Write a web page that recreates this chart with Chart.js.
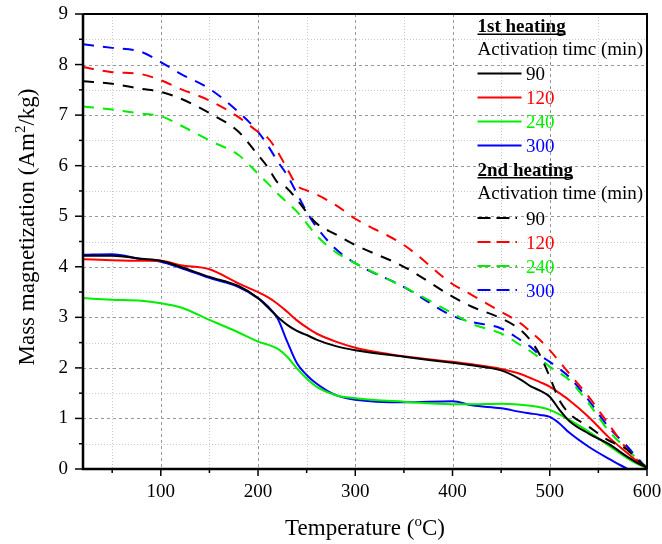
<!DOCTYPE html>
<html>
<head>
<meta charset="utf-8">
<title>Mass magnetization vs temperature</title>
<script src="https://cdn.jsdelivr.net/npm/chart.js@4.4.1/dist/chart.umd.min.js"></script>
<style>
  body { margin: 0; background: #fff; }
  #wrap { width: 662px; height: 544px; }
</style>
</head>
<body>
<div id="wrap"><canvas id="myChart" width="662" height="544"></canvas></div>
<script>
// temperatures (C) where the curves were read
var temps = [20, 50, 80, 100, 120, 150, 180, 200, 210, 220, 230, 240, 250, 260, 280, 300,
             350, 400, 420, 450, 470, 480, 490, 500, 510, 520, 540, 560, 580, 590, 600];

// 1st heating (solid)
var first90  = [4.22, 4.22, 4.16, 4.12, 4.00, 3.80, 3.62, 3.38, 3.20, 3.01, 2.85, 2.73, 2.65, 2.56, 2.43, 2.35,
                2.22, 2.10, 2.05, 1.95, 1.77, 1.64, 1.55, 1.43, 1.17, 0.95, 0.70, 0.50, 0.24, 0.12, 0.03];
var first120 = [4.15, 4.13, 4.12, 4.12, 4.03, 3.95, 3.67, 3.50, 3.40, 3.27, 3.11, 2.94, 2.80, 2.68, 2.52, 2.40,
                2.23, 2.12, 2.07, 1.98, 1.88, 1.80, 1.72, 1.63, 1.50, 1.36, 1.03, 0.64, 0.31, 0.15, 0.04];
var first240 = [3.38, 3.35, 3.33, 3.28, 3.20, 2.95, 2.70, 2.52, 2.46, 2.38, 2.22, 1.99, 1.79, 1.63, 1.46, 1.40,
                1.33, 1.28, 1.28, 1.29, 1.27, 1.25, 1.22, 1.17, 1.08, 0.97, 0.74, 0.47, 0.21, 0.10, 0.02];
var first300 = [4.24, 4.25, 4.15, 4.10, 3.98, 3.78, 3.60, 3.38, 3.22, 2.98, 2.52, 2.09, 1.86, 1.69, 1.46, 1.37,
                1.32, 1.34, 1.26, 1.20, 1.13, 1.10, 1.07, 1.03, 0.90, 0.72, 0.44, 0.21, 0.00, null, null];

// 2nd heating (dashed)
var second90  = [7.67, 7.62, 7.52, 7.46, 7.33, 7.04, 6.67, 6.21, 5.97, 5.67, 5.55, 5.33, 5.08, 4.86, 4.64, 4.43,
                 4.00, 3.41, 3.21, 2.98, 2.75, 2.55, 2.25, 1.82, 1.36, 1.10, 0.84, 0.57, 0.38, 0.18, 0.02];
var second120 = [7.95, 7.85, 7.81, 7.69, 7.52, 7.29, 6.96, 6.67, 6.55, 6.28, 5.94, 5.61, 5.51, 5.43, 5.22, 4.95,
                 4.43, 3.66, 3.44, 3.11, 2.88, 2.72, 2.55, 2.35, 2.12, 1.89, 1.43, 0.90, 0.38, 0.18, 0.02];
var second240 = [7.17, 7.11, 7.03, 6.98, 6.80, 6.50, 6.21, 5.84, 5.65, 5.45, 5.27, 5.09, 4.86, 4.62, 4.29, 4.07,
                 3.60, 3.08, 2.87, 2.68, 2.45, 2.33, 2.19, 2.02, 1.90, 1.76, 1.30, 0.77, 0.38, 0.20, 0.02];
var second300 = [8.40, 8.33, 8.25, 8.05, 7.82, 7.52, 7.06, 6.67, 6.40, 6.09, 5.81, 5.45, 5.09, 4.79, 4.35, 4.07,
                 3.60, 3.03, 2.91, 2.78, 2.55, 2.42, 2.25, 2.12, 1.98, 1.82, 1.36, 0.84, 0.44, 0.22, 0.02];

// axis ticks
var xMajor = [100, 200, 300, 400, 500, 600];
var xMinor = [50, 150, 250, 350, 450, 550];
var yMajor = [0, 1, 2, 3, 4, 5, 6, 7, 8, 9];
var yMinor = [0.5, 1.5, 2.5, 3.5, 4.5, 5.5, 6.5, 7.5, 8.5];

var minutes = ['90', '120', '240', '300'];
var colors = ['#000000', '#ff0000', '#00ee00', '#0000ff'];

var serif = '"Liberation Serif", "Times New Roman", serif';

document.addEventListener('DOMContentLoaded', function() {

    function pts(values) {
        return temps.map(function(t, i) { return { x: t, y: values[i] }; });
    }

    var solid = [first90, first120, first240, first300];
    var dashed = [second90, second120, second240, second300];
    var datasets = [];
    dashed.forEach(function(vals, i) {
        datasets.push({
            label: '2nd ' + minutes[i],
            data: pts(vals),
            borderColor: colors[i],
            borderWidth: 2,
            borderDash: [11, 9],
            pointRadius: 0,
            fill: false,
            cubicInterpolationMode: 'monotone'
        });
    });
    solid.forEach(function(vals, i) {
        datasets.push({
            label: '1st ' + minutes[i],
            data: pts(vals),
            borderColor: colors[i],
            borderWidth: 2,
            pointRadius: 0,
            fill: false,
            cubicInterpolationMode: 'monotone'
        });
    });

    // grid + minor/major tick marks
    var gridPlugin = {
        id: 'gridLines',
        beforeDatasetsDraw: function(chart) {
            var ctx = chart.ctx, a = chart.chartArea;
            var xs = chart.scales.x, ys = chart.scales.y;
            ctx.save();
            ctx.lineWidth = 1;
            // minor dotted
            ctx.strokeStyle = '#c8c8c8';
            ctx.setLineDash([1, 2]);
            xMinor.forEach(function(v) {
                var px = Math.round(xs.getPixelForValue(v)) + 0.5;
                ctx.beginPath(); ctx.moveTo(px, a.top); ctx.lineTo(px, a.bottom); ctx.stroke();
            });
            yMinor.forEach(function(v) {
                var py = Math.round(ys.getPixelForValue(v)) + 0.5;
                ctx.beginPath(); ctx.moveTo(a.left, py); ctx.lineTo(a.right, py); ctx.stroke();
            });
            // major dashed
            ctx.strokeStyle = '#999999';
            ctx.setLineDash([3, 3]);
            xMajor.forEach(function(v) {
                var px = Math.round(xs.getPixelForValue(v)) + 0.5;
                ctx.beginPath(); ctx.moveTo(px, a.top); ctx.lineTo(px, a.bottom); ctx.stroke();
            });
            yMajor.forEach(function(v) {
                var py = Math.round(ys.getPixelForValue(v)) + 0.5;
                ctx.beginPath(); ctx.moveTo(a.left, py); ctx.lineTo(a.right, py); ctx.stroke();
            });
            ctx.restore();
        },
        afterDatasetsDraw: function(chart) {
            var ctx = chart.ctx, a = chart.chartArea;
            var xs = chart.scales.x, ys = chart.scales.y;
            ctx.save();
            ctx.setLineDash([]);
            ctx.strokeStyle = '#000';
            // frame
            ctx.lineWidth = 2;
            ctx.beginPath();
            ctx.moveTo(a.left, a.top); ctx.lineTo(a.right, a.top); ctx.lineTo(a.right, a.bottom);
            ctx.stroke();
            ctx.lineWidth = 2.5;
            ctx.beginPath();
            ctx.moveTo(a.left, a.top); ctx.lineTo(a.left, a.bottom); ctx.lineTo(a.right, a.bottom);
            ctx.stroke();
            // tick marks outward
            ctx.lineWidth = 1.5;
            xMajor.concat(xMinor).forEach(function(v) {
                var px = xs.getPixelForValue(v);
                var len = xMajor.indexOf(v) >= 0 ? 7 : 4;
                ctx.beginPath(); ctx.moveTo(px, a.bottom); ctx.lineTo(px, a.bottom + len); ctx.stroke();
            });
            yMajor.concat(yMinor).forEach(function(v) {
                var py = ys.getPixelForValue(v);
                var len = yMajor.indexOf(v) >= 0 ? 8 : 4;
                ctx.beginPath(); ctx.moveTo(a.left, py); ctx.lineTo(a.left - len, py); ctx.stroke();
            });
            ctx.restore();
        }
    };

    // draws text with a superscript piece: parts = [[text, sup?], ...]
    function drawParts(ctx, parts, x, y, size) {
        var supSize = Math.round(size * 0.65);
        var total = 0;
        parts.forEach(function(p) {
            ctx.font = (p[1] ? supSize : size) + 'px ' + serif;
            total += ctx.measureText(p[0]).width;
        });
        var cx = x - total / 2;
        parts.forEach(function(p) {
            ctx.font = (p[1] ? supSize : size) + 'px ' + serif;
            ctx.fillText(p[0], cx, p[1] ? y - size * 0.38 : y);
            cx += ctx.measureText(p[0]).width;
        });
    }

    var titlePlugin = {
        id: 'axisTitles',
        afterDraw: function(chart) {
            var ctx = chart.ctx, a = chart.chartArea;
            ctx.save();
            ctx.fillStyle = '#000';
            ctx.textAlign = 'left';
            ctx.textBaseline = 'alphabetic';
            drawParts(ctx, [['Temperature (', false], ['o', true], ['C)', false]], (a.left + a.right) / 2, 535, 23);
            ctx.translate(34, 227);
            ctx.rotate(-Math.PI / 2);
            drawParts(ctx, [['Mass magnetization (Am', false], ['2', true], ['/kg)', false]], 0, 0, 23);
            ctx.restore();
        }
    };

    // legend block in the upper right of the plot
    var legendPlugin = {
        id: 'heatLegend',
        afterDraw: function(chart) {
            var ctx = chart.ctx;
            var x0 = 477.5, x1 = 521.5, tx = 526;
            ctx.save();
            ctx.textAlign = 'left';
            ctx.textBaseline = 'alphabetic';

            function header(text, y) {
                ctx.font = 'bold 19px ' + serif;
                ctx.fillStyle = '#000';
                ctx.fillText(text, x0, y);
                var w = ctx.measureText(text).width;
                ctx.fillRect(x0, y + 1.5, w, 1.5);
            }
            function sub(text, y) {
                ctx.font = '19px ' + serif;
                ctx.fillStyle = '#000';
                ctx.fillText(text, x0, y);
            }
            function rows(startY, dash, end) {
                minutes.forEach(function(m, i) {
                    var y = startY + i * 24;
                    ctx.strokeStyle = colors[i];
                    ctx.lineWidth = 2;
                    ctx.setLineDash(dash);
                    ctx.beginPath(); ctx.moveTo(x0, y); ctx.lineTo(end, y); ctx.stroke();
                    ctx.setLineDash([]);
                    ctx.font = '19px ' + serif;
                    ctx.fillStyle = colors[i];
                    ctx.fillText(m, tx, y + 6.5);
                });
            }

            header('1st heating', 32);
            sub('Activation timc (min)', 55);
            rows(73.5, [], x1);
            header('2nd heating', 175.5);
            sub('Activation time (min)', 199);
            rows(218, [13, 6], 517);
            ctx.restore();
        }
    };

    var ctx = document.getElementById('myChart').getContext('2d');
    var myChart = new Chart(ctx, {
        type: 'line',
        data: { datasets: datasets },
        options: {
            responsive: false,
            animation: false,
            layout: { padding: { top: 14, right: 15, left: 0, bottom: 0 } },
            plugins: {
                legend: { display: false },
                tooltip: { enabled: false }
            },
            scales: {
                x: {
                    type: 'linear',
                    min: 20,
                    max: 600,
                    grid: { display: false, drawTicks: false },
                    border: { display: false },
                    afterBuildTicks: function(scale) {
                        scale.ticks = xMajor.map(function(v) { return { value: v }; });
                    },
                    afterFit: function(scale) {
                        scale.height = 75;
                        scale.paddingLeft = 0;
                        scale.paddingRight = 0;
                    },
                    ticks: {
                        autoSkip: false,
                        maxRotation: 0,
                        padding: 12,
                        color: '#000',
                        font: { family: serif, size: 19 }
                    }
                },
                y: {
                    min: 0,
                    max: 9,
                    grid: { display: false, drawTicks: false },
                    border: { display: false },
                    afterBuildTicks: function(scale) {
                        scale.ticks = yMajor.map(function(v) { return { value: v }; });
                    },
                    afterFit: function(scale) {
                        scale.width = 83;
                        scale.paddingTop = 0;
                        scale.paddingBottom = 0;
                    },
                    ticks: {
                        autoSkip: false,
                        padding: 15,
                        color: '#000',
                        font: { family: serif, size: 19 }
                    }
                }
            }
        },
        plugins: [gridPlugin, titlePlugin, legendPlugin]
    });

});
</script>
</body>
</html>
